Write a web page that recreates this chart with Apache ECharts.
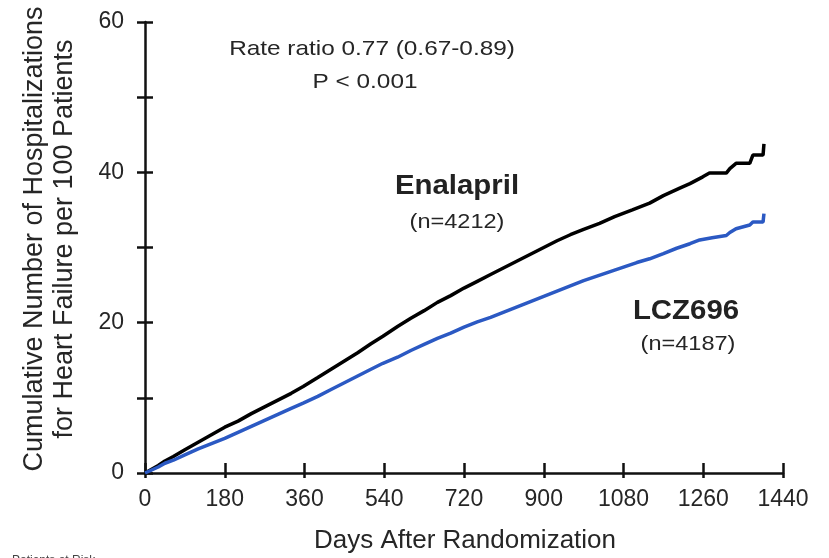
<!DOCTYPE html>
<html>
<head>
<meta charset="utf-8">
<script src="https://cdn.jsdelivr.net/npm/echarts@6/dist/echarts.min.js"></script>
<style>html,body{margin:0;padding:0;background:#fff}#c{width:829px;height:558px}</style>
</head>
<body>
<div id="c"></div>
<script>
// Days after randomization (x) and cumulative hospitalizations per 100 patients (y)
const enalaprilDays = [0,15,30,45,64,90,120,150,180,210,240,270,300,330,357,390,420,450,480,510,537,570,600,630,660,690,720,750,780,810,840,870,900,930,960,990,1026,1060,1100,1139,1170,1207,1230,1259,1274,1312,1320,1334,1365,1372,1395,1397];
const enalaprilValues = [0,0.5,1.0,1.6,2.2,3.1,4.1,5.1,6.1,6.9,7.9,8.8,9.7,10.6,11.5,12.7,13.8,14.9,16.0,17.2,18.2,19.5,20.6,21.6,22.7,23.6,24.6,25.5,26.4,27.3,28.2,29.1,30.0,30.9,31.7,32.4,33.2,34.1,35.0,35.9,36.9,37.9,38.5,39.4,39.9,39.9,40.5,41.2,41.2,42.3,42.3,43.8];
const lczDays = [0,15,30,45,64,90,120,150,180,210,240,270,300,330,357,390,420,450,480,510,537,570,600,630,660,690,720,750,780,810,840,870,900,930,960,990,1020,1050,1080,1110,1139,1170,1200,1230,1252,1280,1312,1320,1334,1365,1372,1395,1397];
const lczValues = [0,0.4,0.8,1.3,1.7,2.4,3.2,3.9,4.6,5.4,6.2,7.0,7.8,8.6,9.3,10.2,11.1,12.0,12.9,13.8,14.6,15.4,16.3,17.1,17.9,18.6,19.4,20.1,20.7,21.4,22.1,22.8,23.5,24.2,24.9,25.6,26.2,26.8,27.4,28.0,28.5,29.2,29.9,30.5,31.0,31.3,31.6,32.0,32.5,33.0,33.4,33.4,34.5];
const xTicks = [0,180,360,540,720,900,1080,1260,1440];
const yTickLabels = [0,20,40,60];

const TXT = '#262626';
const FONT = 'Liberation Sans, Arial, sans-serif';
const pairs = (xs, ys) => xs.map((x, i) => [x, ys[i]]);

const chart = echarts.init(document.getElementById('c'));
const xBase = {
  type: 'value', min: xTicks[0], max: xTicks[xTicks.length - 1], interval: 180,
  splitLine: { show: false }, gridIndex: 0, position: 'bottom'
};
const yBase = {
  type: 'value', min: 0, max: 60, interval: 10,
  splitLine: { show: false }, gridIndex: 0, position: 'left'
};
chart.setOption({
  animation: false,
  backgroundColor: '#fff',
  grid: { left: 145, right: 46, top: 22, bottom: 85, outerBoundsMode: 'none', containLabel: false },
  xAxis: [
    Object.assign({}, xBase, {
      axisLine: { show: true, lineStyle: { color: '#111', width: 2.5 } },
      axisTick: { show: true, inside: true, length: 10, lineStyle: { color: '#111', width: 2.5 } },
      axisLabel: { show: true, color: TXT, fontSize: 23, fontFamily: FONT, margin: 15,
        formatter: v => xTicks.indexOf(v) >= 0 ? String(v) : '' }
    }),
    Object.assign({}, xBase, {
      axisLine: { show: false },
      axisTick: { show: true, inside: false, length: 5, lineStyle: { color: '#111', width: 2.5 } },
      axisLabel: { show: false }
    })
  ],
  yAxis: [
    Object.assign({}, yBase, {
      axisLine: { show: true, lineStyle: { color: '#111', width: 2.5 } },
      axisTick: { show: true, inside: true, length: 8, lineStyle: { color: '#111', width: 2.5 } },
      axisLabel: { show: true, color: TXT, fontSize: 23, fontFamily: FONT, margin: 21,
        formatter: v => yTickLabels.indexOf(v) >= 0 ? String(v) : '' }
    }),
    Object.assign({}, yBase, {
      axisLine: { show: false },
      axisTick: { show: true, inside: false, length: 8, lineStyle: { color: '#111', width: 2.5 } },
      axisLabel: { show: false }
    })
  ],
  series: [
    {
      name: 'Enalapril', type: 'line', xAxisIndex: 0, yAxisIndex: 0,
      data: pairs(enalaprilDays, enalaprilValues),
      showSymbol: false, smooth: false,
      lineStyle: { color: '#000', width: 3.5 }, itemStyle: { color: '#000' }, z: 3
    },
    {
      name: 'LCZ696', type: 'line', xAxisIndex: 0, yAxisIndex: 0,
      data: pairs(lczDays, lczValues),
      showSymbol: false, smooth: false,
      lineStyle: { color: '#2b59c3', width: 3.5 }, itemStyle: { color: '#2b59c3' }, z: 4
    }
  ],
  graphic: [
    { type: 'text', x: 372, y: 49, scaleX: 1.16,
      style: { text: 'Rate ratio 0.77 (0.67-0.89)', fill: TXT, font: '21px ' + FONT, textAlign: 'center', textVerticalAlign: 'middle' } },
    { type: 'text', x: 365, y: 82, scaleX: 1.16,
      style: { text: 'P < 0.001', fill: TXT, font: '21px ' + FONT, textAlign: 'center', textVerticalAlign: 'middle' } },
    { type: 'text', x: 457, y: 186, scaleX: 1.05,
      style: { text: 'Enalapril', fill: '#222', font: 'bold 28px ' + FONT, textAlign: 'center', textVerticalAlign: 'middle' } },
    { type: 'text', x: 457, y: 222, scaleX: 1.12,
      style: { text: '(n=4212)', fill: TXT, font: '21px ' + FONT, textAlign: 'center', textVerticalAlign: 'middle' } },
    { type: 'text', x: 686, y: 311, scaleX: 1.05,
      style: { text: 'LCZ696', fill: '#222', font: 'bold 28px ' + FONT, textAlign: 'center', textVerticalAlign: 'middle' } },
    { type: 'text', x: 688, y: 344, scaleX: 1.12,
      style: { text: '(n=4187)', fill: TXT, font: '21px ' + FONT, textAlign: 'center', textVerticalAlign: 'middle' } },
    { type: 'text', x: 465, y: 541,
      style: { text: 'Days After Randomization', fill: TXT, font: '26px ' + FONT, textAlign: 'center', textVerticalAlign: 'middle' } },
    { type: 'text', x: 50, y: 239, rotation: Math.PI / 2,
      style: { text: 'Cumulative Number of Hospitalizations\nfor Heart Failure per 100 Patients', fill: TXT, font: '27px ' + FONT, lineHeight: 30, textAlign: 'center', textVerticalAlign: 'middle' } },
    { type: 'text', x: 12, y: 555,
      style: { text: 'Patients at Risk', fill: '#444', font: '12px ' + FONT, textAlign: 'left', textVerticalAlign: 'top' } }
  ]
});
</script>
</body>
</html>
